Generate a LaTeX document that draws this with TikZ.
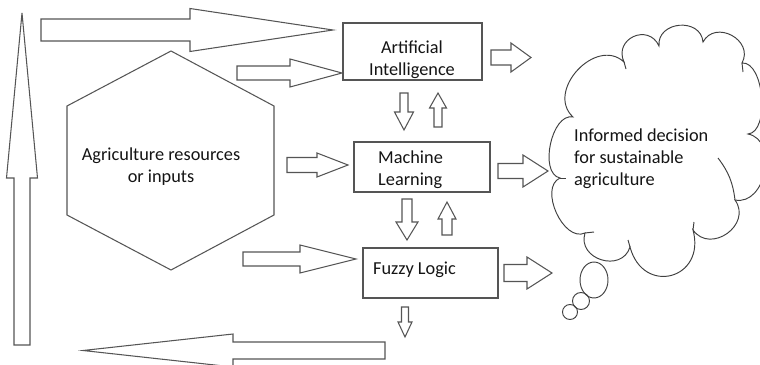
\documentclass[tikz,border=0pt]{standalone}
\usepackage{fontspec}
\setmainfont{Carlito}
\definecolor{edge}{RGB}{85,85,85}
\definecolor{ink}{RGB}{20,20,20}
% horizontal block arrow: tail x, head-base x, tip x, centre y, shaft half, head half
\newcommand\hArrow[6]{%
  \draw[blockarrow] (#1,#4-#5) -- (#2,#4-#5) -- (#2,#4-#6) -- (#3,#4)
    -- (#2,#4+#6) -- (#2,#4+#5) -- (#1,#4+#5) -- cycle;}
% vertical block arrow: tail y, head-base y, tip y, centre x, shaft half, head half
\newcommand\vArrow[6]{%
  \draw[blockarrow] (#4-#5,#1) -- (#4-#5,#2) -- (#4-#6,#2) -- (#4,#3)
    -- (#4+#6,#2) -- (#4+#5,#2) -- (#4+#5,#1) -- cycle;}
\begin{document}
\begin{tikzpicture}[x=1pt,y=-1pt,
  blockarrow/.style={draw=edge,line width=1.05pt,fill=white,line join=miter},
  boxline/.style={draw=edge,line width=1.05pt},
  label/.style={text=ink,font=\fontsize{18.3}{22}\selectfont,inner sep=0pt},
  cloudline/.style={draw=black!75,line width=0.95pt}]
\useasboundingbox (0,0) rectangle (760,364);
\clip (0,0) rectangle (760,364);
\fill[white] (0,0) rectangle (760,364);

% process boxes
\draw[boxline] (343,23) rectangle (482,80);
\draw[boxline] (354,142) rectangle (490,192);
\draw[boxline] (363,248) rectangle (498,298);
\node[label,align=center,anchor=base] (ai) at (412,75) {Artificial\\Intelligence};
\node[label,align=left,anchor=base west] (ml) at (378,185) {Machine\\Learning};
\node[label,anchor=base west] (fl) at (373,274) {Fuzzy Logic};

% resources hexagon
\draw[boxline] (171,51) -- (274,106) -- (274,215) -- (171,270) -- (67,215) -- (67,106) -- cycle;
\node[label,align=center,anchor=base] (res) at (161,182) {Agriculture resources\\or inputs};

% block arrows
\hArrow{41}{190}{333}{30}{11}{21.5}
\hArrow{237}{290}{342}{73}{7}{14}
\hArrow{287}{317}{348}{165}{7.5}{12}
\hArrow{243}{300}{356}{259}{7}{14}
\vArrow{345}{178}{13}{22}{8}{15.5}
\hArrow{385}{233}{83}{350.5}{8.5}{16.5}
\hArrow{491}{511}{531}{57.5}{7.5}{14.5}
\hArrow{498}{523}{548}{171}{7.5}{16}
\hArrow{504}{527}{552}{273}{8.5}{16}
\vArrow{93}{112}{130}{404}{4}{9.5}
\vArrow{127}{108}{93}{438}{4}{8.5}
\vArrow{199}{222}{240}{407}{5}{11}
\vArrow{235}{219}{202}{447}{5}{9}
\vArrow{307}{322}{337}{405}{3.5}{7}

% thought cloud
\draw[cloudline] (573,117)
  to[bend left=90,looseness=1.3] (624,62)
  to[bend left=90,looseness=1.7] (659,46)
  to[bend left=90,looseness=1.45] (703,42)
  to[bend left=90,looseness=1.5] (742,63)
  to[bend left=90,looseness=0.8] (748,134)
  to[bend left=90,looseness=1.2] (735,200)
  to[bend left=90,looseness=1.5] (693,230)
  to[bend left=90,looseness=2.0] (630,247)
  to[bend left=90,looseness=1.5] (585,233)
  to[bend left=90,looseness=1.0] (560,178)
  to[bend left=90,looseness=0.9] cycle;
% inner creases of the cloud
\draw[cloudline] (718,158) to[bend left=15] (735,200);
\draw[cloudline] (624,62) -- (626,69);
\draw[cloudline] (742,63) -- (743,72);
\draw[cloudline] (693,230) -- (694,222);
\draw[cloudline] (630,247) -- (628,240);
\draw[cloudline] (585,233) -- (594,232);
\draw[cloudline] (560,178) -- (566,178);
\draw[cloudline] (594,280) ellipse [x radius=14,y radius=18];
\draw[cloudline] (581,301) circle [radius=8.5];
\draw[cloudline] (570,312) circle [radius=7.5];
\node[label,align=left,anchor=base west] (goal) at (574,185)
  {Informed decision\\for sustainable\\agriculture};
\end{tikzpicture}
\end{document}
